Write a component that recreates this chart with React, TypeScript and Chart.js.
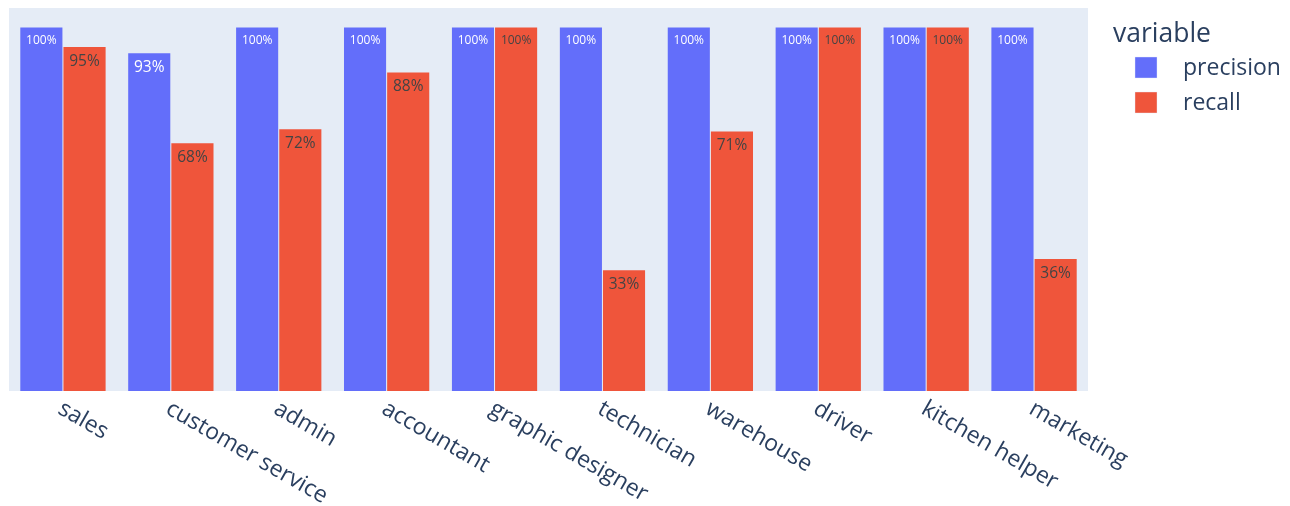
import React, { useEffect, useRef } from 'react';
import { Chart, registerables } from 'chart.js';

Chart.register(...registerables);

const categories = ['sales', 'customer service', 'admin', 'accountant', 'graphic designer', 'technician', 'warehouse', 'driver', 'kitchen helper', 'marketing'];
const precision = [100, 92.9, 100, 100, 100, 100, 100, 100, 100, 100];
const recall = [94.6, 68.2, 72.0, 87.6, 100, 33.3, 71.4, 100, 100, 36.4];

const BLUE = '#636EFA';
const RED = '#EF553B';
const PLOT_BG = '#E5ECF6';
const INK = '#2a3f5f';
const FONT = '"Open Sans", Verdana, Arial, sans-serif';

// plot background behind the bars
const plotBg = {
  id: 'plotBg',
  beforeDraw(chart: any) {
    const { ctx, chartArea: a } = chart;
    ctx.save();
    ctx.fillStyle = PLOT_BG;
    ctx.fillRect(a.left, a.top, a.right - a.left, a.bottom - a.top);
    ctx.restore();
  },
};

// percentage text inside the top of each bar
const barText = {
  id: 'barText',
  afterDatasetsDraw(chart: any) {
    const { ctx } = chart;
    ctx.save();
    ctx.textAlign = 'center';
    ctx.textBaseline = 'alphabetic';
    chart.data.datasets.forEach((ds: any, di: number) => {
      const meta = chart.getDatasetMeta(di);
      meta.data.forEach((bar: any, i: number) => {
        const label = Math.round(ds.data[i]) + '%';
        const size = label.length > 3 ? 12 : 15.5;
        ctx.font = `${size}px ${FONT}`;
        ctx.fillStyle = di === 0 ? '#ffffff' : '#444444';
        ctx.fillText(label, bar.x, bar.y + 8 + size * 0.72);
      });
    });
    ctx.restore();
  },
};

// slanted category labels, reading downwards like plotly's
const slantLabels = {
  id: 'slantLabels',
  afterDraw(chart: any) {
    const { ctx, chartArea } = chart;
    const x = chart.scales.x;
    ctx.save();
    ctx.font = `23px ${FONT}`;
    ctx.fillStyle = INK;
    ctx.textAlign = 'left';
    ctx.textBaseline = 'middle';
    categories.forEach((c, i) => {
      ctx.save();
      ctx.translate(x.getPixelForValue(i) - 3, chartArea.bottom + 16);
      ctx.rotate(Math.PI / 6);
      ctx.fillText(c, 0, 0);
      ctx.restore();
    });
    ctx.restore();
  },
};

// legend with title on the right
const sideLegend = {
  id: 'sideLegend',
  afterDraw(chart: any) {
    const { ctx, chartArea } = chart;
    const left = chartArea.right + 25;
    ctx.save();
    ctx.fillStyle = INK;
    ctx.font = `26.5px ${FONT}`;
    ctx.textBaseline = 'alphabetic';
    ctx.fillText('variable', left, 42);
    ctx.font = `23px ${FONT}`;
    ctx.textBaseline = 'middle';
    chart.data.datasets.forEach((ds: any, i: number) => {
      const y = 57 + i * 35;
      ctx.fillStyle = ds.backgroundColor;
      ctx.fillRect(left + 22, y, 22, 21);
      ctx.strokeStyle = 'rgba(229,236,246,0.8)';
      ctx.lineWidth = 0.5;
      ctx.strokeRect(left + 22, y, 22, 21);
      ctx.fillStyle = INK;
      ctx.fillText(ds.label, left + 70, y + 11);
    });
    ctx.restore();
  },
};

export default function App() {
  const canvasRef = useRef<HTMLCanvasElement>(null);

  useEffect(() => {
    if (!canvasRef.current) return;
    const chart = new Chart(canvasRef.current, {
      type: 'bar',
      data: {
        labels: categories,
        datasets: [
          { label: 'precision', data: precision, backgroundColor: BLUE, borderColor: PLOT_BG, borderWidth: 0.5 },
          { label: 'recall', data: recall, backgroundColor: RED, borderColor: PLOT_BG, borderWidth: 0.5 },
        ],
      },
      options: {
        animation: false,
        responsive: true,
        maintainAspectRatio: false,
        layout: { padding: { left: 9, top: 8, right: 202, bottom: 115 } },
        datasets: { bar: { categoryPercentage: 0.8, barPercentage: 1 } },
        plugins: { legend: { display: false }, tooltip: { enabled: false } },
        scales: {
          x: { display: false },
          y: { display: false, min: 0, max: 105.2 },
        },
      },
      plugins: [plotBg, barText, slantLabels, sideLegend],
    });
    return () => chart.destroy();
  }, []);

  return (
    <div style={{ position: 'absolute', left: 0, top: 0, width: 1290, height: 506, background: '#fff' }}>
      <canvas ref={canvasRef} />
    </div>
  );
}
